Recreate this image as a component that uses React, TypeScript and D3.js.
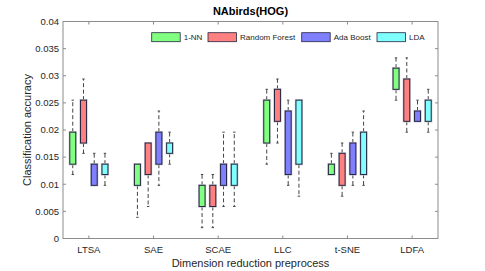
import * as d3 from 'd3';

// 資料：每個方法的 [下鬚, Q1, Q3, 上鬚]
const methods = ['LTSA', 'SAE', 'SCAE', 'LLC', 't-SNE', 'LDFA'];
const classifiers = ['1-NN', 'Random Forest', 'Ada Boost', 'LDA'];
const colors = ['#80ff80', '#ff8080', '#8080ff', '#80ffff'];

const oneNN = [
  [0.0118, 0.0137, 0.0196, 0.0255],
  [0.0039, 0.0098, 0.0137, 0.0137],
  [0.0020, 0.0059, 0.0098, 0.0118],
  [0.0137, 0.0176, 0.0255, 0.0275],
  [0.0118, 0.0118, 0.0137, 0.0157],
  [0.0255, 0.0275, 0.0314, 0.0333],
];
const randomForest = [
  [0.0157, 0.0176, 0.0255, 0.0294],
  [0.0059, 0.0118, 0.0176, 0.0176],
  [0.0020, 0.0059, 0.0098, 0.0118],
  [0.0176, 0.0216, 0.0275, 0.0294],
  [0.0078, 0.0098, 0.0157, 0.0176],
  [0.0196, 0.0216, 0.0294, 0.0333],
];
const adaBoost = [
  [0.0098, 0.0098, 0.0137, 0.0157],
  [0.0098, 0.0137, 0.0196, 0.0235],
  [0.0059, 0.0098, 0.0137, 0.0196],
  [0.0098, 0.0118, 0.0235, 0.0255],
  [0.0098, 0.0118, 0.0176, 0.0196],
  [0.0216, 0.0216, 0.0235, 0.0255],
];
const lda = [
  [0.0098, 0.0118, 0.0137, 0.0157],
  [0.0137, 0.0157, 0.0176, 0.0196],
  [0.0059, 0.0098, 0.0137, 0.0196],
  [0.0078, 0.0137, 0.0255, 0.0255],
  [0.0098, 0.0118, 0.0196, 0.0235],
  [0.0196, 0.0216, 0.0255, 0.0275],
];
const series = [oneNN, randomForest, adaBoost, lda];
const yTicks = [0, 0.005, 0.01, 0.015, 0.02, 0.025, 0.03, 0.035, 0.04];

const width = 485;
const height = 271;
const margin = { top: 21.5, right: 47, bottom: 32.5, left: 63 };
const font = "'Liberation Sans', Arial, sans-serif";

export default function App() {
  const x = d3.scaleLinear()
    .domain([-0.4, methods.length - 0.6])
    .range([margin.left, width - margin.right]);
  const y = d3.scaleLinear()
    .domain([0, 0.04])
    .range([height - margin.bottom, margin.top]);

  const step = 0.166; // 組內間距
  const boxW = 0.092;
  const x0 = margin.left, x1 = width - margin.right;
  const y0 = height - margin.bottom, y1 = margin.top;
  const axisColor = '#8c8c8c';
  const textColor = '#262626';

  const legendX = [151.7, 208, 301.7, 377];

  return (
    <svg width={width} height={height}
      style={{ position: 'fixed', left: 0, top: 0, background: '#fff', fontFamily: font }}>
      {/* 標題 */}
      <text x={(x0 + x1) / 2} y={14.5} textAnchor="middle" fontSize={11}
        fontWeight="bold" fill="#000">NAbirds(HOG)</text>

      {/* 座標框 */}
      <rect x={x0} y={y1} width={x1 - x0} height={y0 - y1} fill="none"
        stroke={axisColor} strokeWidth={1} />

      {/* Y 軸刻度 */}
      {yTicks.map((t) => (
        <g key={'y' + t}>
          <line x1={x0} x2={x0 + 3} y1={y(t)} y2={y(t)} stroke={axisColor} />
          <line x1={x1} x2={x1 - 3} y1={y(t)} y2={y(t)} stroke={axisColor} />
          <text x={x0 - 4} y={y(t)} dy="0.35em" textAnchor="end" fontSize={9.5}
            fill={textColor}>{d3.format('')(t)}</text>
        </g>
      ))}

      {/* X 軸刻度 */}
      {methods.map((m, i) => (
        <g key={'x' + m}>
          <line x1={x(i)} x2={x(i)} y1={y0} y2={y0 - 3} stroke={axisColor} />
          <line x1={x(i)} x2={x(i)} y1={y1} y2={y1 + 3} stroke={axisColor} />
          <text x={x(i)} y={253.4} textAnchor="middle" fontSize={9.5}
            fill={textColor}>{m}</text>
        </g>
      ))}

      {/* 軸標籤 */}
      <text x={(x0 + x1) / 2} y={267.3} textAnchor="middle" fontSize={11}
        fill={textColor}>Dimension reduction preprocess</text>
      <text transform={`translate(30.5,${(y0 + y1) / 2}) rotate(-90)`}
        textAnchor="middle" fontSize={11} fill={textColor}>Classification accuracy</text>

      {/* 箱形圖 */}
      {series.map((data, s) => (
        <g key={'s' + s}>
          {data.map(([lo, q1, q3, hi], i) => {
            const cx = x(i + (s - 1.5) * step);
            const bw = x(boxW) - x(0);
            const cap = 1.2;
            return (
              <g key={i}>
                {hi > q3 && (
                  <g>
                    <line x1={cx} x2={cx} y1={y(q3)} y2={y(hi)} stroke="#444"
                      strokeDasharray="4,2.5" />
                    <line x1={cx - cap} x2={cx + cap} y1={y(hi)} y2={y(hi)} stroke="#444" />
                  </g>
                )}
                {lo < q1 && (
                  <g>
                    <line x1={cx} x2={cx} y1={y(q1)} y2={y(lo)} stroke="#444"
                      strokeDasharray="4,2.5" />
                    <line x1={cx - cap} x2={cx + cap} y1={y(lo)} y2={y(lo)} stroke="#444" />
                  </g>
                )}
                <rect x={cx - bw / 2} y={y(q3)} width={bw} height={y(q1) - y(q3)}
                  fill="none" stroke="#c4c4d0" strokeWidth={2.2} />
                <rect x={cx - bw / 2} y={y(q3)} width={bw} height={y(q1) - y(q3)}
                  fill={colors[s]} stroke="#262640" strokeWidth={1} />
              </g>
            );
          })}
        </g>
      ))}

      {/* 圖例 */}
      {classifiers.map((c, i) => (
        <g key={'l' + c}>
          <rect x={legendX[i]} y={32.7} width={28.5} height={9} fill={colors[i]}
            stroke="#262640" strokeWidth={0.8} />
          <text x={legendX[i] + 32} y={40.3} fontSize={8} fill={textColor}>{c}</text>
        </g>
      ))}
    </svg>
  );
}
